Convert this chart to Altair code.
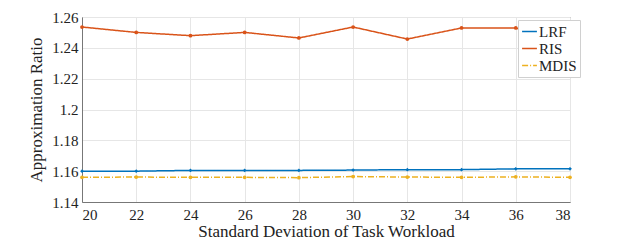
import altair as alt
import pandas as pd

x_vals = [20, 22, 24, 26, 28, 30, 32, 34, 36, 38]
series = ["LRF", "RIS", "MDIS"]
lrf = [1.1600, 1.1600, 1.1605, 1.1605, 1.1605, 1.1607, 1.1610, 1.1610, 1.1615, 1.1615]
ris = [1.2535, 1.2500, 1.2479, 1.2500, 1.2464, 1.2535, 1.2457, 1.2529, 1.2529, 1.2422]
mdis = [1.1560, 1.1562, 1.1560, 1.1560, 1.1558, 1.1565, 1.1562, 1.1560, 1.1563, 1.1560]
colors = ["#0072BD", "#D95319", "#EDB120"]
shapes = ["diamond", "circle", "circle"]
y_ticks = [1.14, 1.16, 1.18, 1.2, 1.22, 1.24, 1.26]

rows = []
for name, vals in zip(series, [lrf, ris, mdis]):
    for xv, yv in zip(x_vals, vals):
        rows.append({"x": xv, "y": yv, "series": name, "mk": name})
df = pd.DataFrame(rows)

FONT = "Liberation Serif"

color = alt.Color(
    "series:N",
    scale=alt.Scale(domain=series, range=colors),
    legend=alt.Legend(
        title=None,
        orient="none",
        legendX=436,
        legendY=3,
        fillColor="white",
        strokeColor="#d0d0d0",
        padding=3,
        labelFont=FONT,
        labelFontSize=15,
        labelColor="#222",
        symbolType="stroke",
        symbolSize=220,
        symbolStrokeWidth=1.5,
        rowPadding=0,
        labelOffset=1,
    ),
)
dash = alt.StrokeDash(
    "series:N",
    scale=alt.Scale(domain=series, range=[[1, 0], [1, 0], [6, 2, 1, 2]]),
    legend=None,
)

base = alt.Chart(df).encode(
    x=alt.X(
        "x:Q",
        scale=alt.Scale(domain=[20, 38], nice=False),
        axis=alt.Axis(values=x_vals, title="Standard Deviation of Task Workload",
                      labelFont=FONT, titleFont=FONT),
    ),
    y=alt.Y(
        "y:Q",
        scale=alt.Scale(domain=[1.14, 1.26], nice=False),
        axis=alt.Axis(values=y_ticks, format=".2~f", title="Approximation Ratio",
                      labelFont=FONT, titleFont=FONT),
    ),
)

lines = base.mark_line(strokeWidth=1.5).encode(color=color, strokeDash=dash)
pts = base.mark_point(filled=True, size=14, opacity=1).encode(
    fill=alt.Fill("mk:N", scale=alt.Scale(domain=series, range=colors), legend=None),
    shape=alt.Shape("mk:N", scale=alt.Scale(domain=series, range=shapes), legend=None),
)

chart = (
    alt.layer(lines, pts)
    .resolve_scale(fill="independent", shape="independent")
    .properties(
        width=488,
        height=185,
        autosize=alt.AutoSizeParams(type="none"),
        padding={"left": 74, "top": 9, "right": 53, "bottom": 38},
    )
    .configure_view(stroke="#777", strokeWidth=1)
    .configure_axis(
        labelFontSize=15,
        titleFontSize=17,
        titleFontWeight="normal",
        labelColor="#222",
        titleColor="#222",
        gridColor="#e6e6e6",
        domainColor="#777",
        ticks=False,
    )
    .configure_axisX(labelPadding=5, titlePadding=1)
    .configure_axisY(labelPadding=4, titlePadding=6)
)

chart.save("out.html", embed_options={"renderer": "svg", "actions": False})
